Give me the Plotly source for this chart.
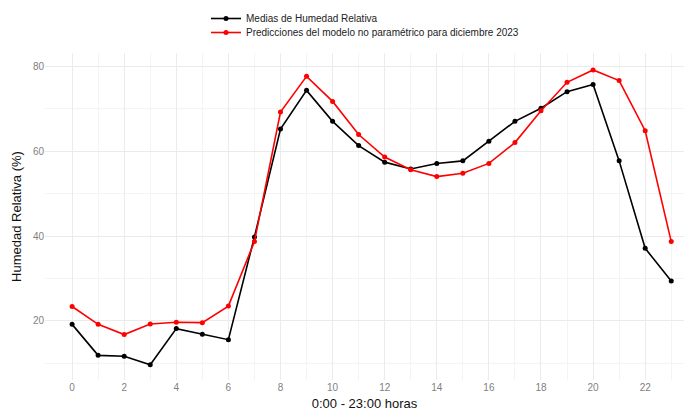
import plotly.graph_objects as go

hours = list(range(24))
medias = [19.2, 11.9, 11.7, 9.7, 18.2, 16.9, 15.6, 39.8, 65.2, 74.3, 67.0, 61.3,
          57.4, 55.8, 57.1, 57.7, 62.3, 67.0, 70.1, 74.0, 75.7, 57.7, 37.1, 29.4]
predicciones = [23.4, 19.2, 16.8, 19.3, 19.7, 19.6, 23.5, 38.7, 69.2, 77.6, 71.7, 63.9,
                58.6, 55.6, 54.0, 54.8, 57.1, 62.0, 69.5, 76.2, 79.1, 76.6, 64.8, 38.7]
x_ticks = list(range(0, 24, 2))
y_ticks = [20, 40, 60, 80]

fig = go.Figure()
fig.add_trace(go.Scatter(x=hours, y=medias, mode="lines+markers",
                         name="Medias de Humedad Relativa",
                         line=dict(color="black", width=1.6),
                         marker=dict(color="black", size=5), legend="legend"))
fig.add_trace(go.Scatter(x=hours, y=predicciones, mode="lines+markers",
                         name="Predicciones del modelo no paramétrico para diciembre 2023",
                         line=dict(color="red", width=1.6),
                         marker=dict(color="red", size=5), legend="legend2"))

grid = "#ebebeb"
lx = (206 - 45) / 639
leg_common = dict(x=lx, xanchor="left", yanchor="top",
                  font=dict(size=10, color="#222"), bgcolor="rgba(0,0,0,0)",
                  itemwidth=30)
fig.update_layout(
    width=684, height=412,
    margin=dict(l=45, r=0, t=53, b=32),
    paper_bgcolor="white", plot_bgcolor="white",
    font=dict(family="Liberation Sans, Arial, sans-serif", color="#222"),
    showlegend=True,
    legend=dict(y=1 + 49 / 327, **leg_common),
    legend2=dict(y=1 + 35 / 327, **leg_common),
    xaxis=dict(range=[-1.04, 23.49], tickvals=x_ticks, showgrid=True, gridcolor=grid,
               minor=dict(tickvals=list(range(1, 24, 2)), showgrid=True, gridcolor="#f4f4f4"),
               zeroline=False, showline=False, ticks="",
               tickfont=dict(size=10, color="#7f7f7f"),
               title=dict(text="0:00 - 23:00 horas", font=dict(size=13, color="#111"), standoff=6)),
    yaxis=dict(range=[6.1, 83.1], tickvals=y_ticks, showgrid=True, gridcolor=grid,
               minor=dict(tickvals=[10, 30, 50, 70], showgrid=True, gridcolor="#f4f4f4"),
               zeroline=False, showline=False, ticks="",
               tickfont=dict(size=10, color="#7f7f7f"),
               title=dict(text="Humedad Relativa (%)", font=dict(size=13, color="#111"), standoff=8)),
)

fig.write_html("out.html")
